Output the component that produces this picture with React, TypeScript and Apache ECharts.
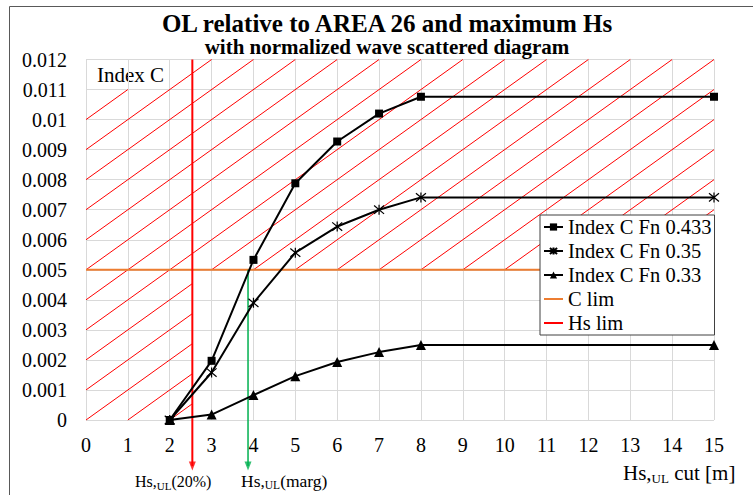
import React, { useEffect, useRef } from 'react';
import * as echarts from 'echarts';

// ---- data ----
const hsCut = [2, 3, 4, 5, 6, 7, 8, 15];
const fn0433 = [0, 0.00197, 0.00533, 0.00788, 0.00927, 0.0102, 0.01076, 0.01076];
const fn035 = [0, 0.00158, 0.0039, 0.00557, 0.00644, 0.0070, 0.00741, 0.00741];
const fn033 = [0, 0.00018, 0.00083, 0.00146, 0.00193, 0.00226, 0.0025, 0.0025];
const cLim = 0.005;
const hsLim = 2.54;
const hsMarg = 3.87;
const arrowEnd = -0.00153;
const xMin = 0, xMax = 15, yMin = 0, yMax = 0.012;
const hatchOffsets = [-12, -11, -10, -9, -8, -7, -6, -5, -4, -3, -2, -1, 0, 1, 2, 3, 4, 5, 6, 7, 8, 9, 10, 11, 12, 13, 14, 15];
const legendNames = ['Index C Fn 0.433', 'Index C Fn 0.35', 'Index C Fn 0.33', 'C lim', 'Hs lim'];

const FONT = 'Liberation Serif, serif';

// hatch region: (y >= cLim or x <= hsLim) minus label box
const labelBox = { x0: 0, x1: 2, y0: 0.011, y1: 0.012 };
function inRegion(x: number, y: number) {
  if (x < xMin || x > xMax || y < yMin || y > yMax) return false;
  if (x > labelBox.x0 && x < labelBox.x1 && y > labelBox.y0 && y < labelBox.y1) return false;
  return y >= cLim || x <= hsLim;
}
function hatchSegments(k: number): [number, number][] {
  const slope = 0.001;
  const lo = Math.max(xMin, k);
  const hi = Math.min(xMax, k + yMax / slope);
  if (hi <= lo) return [];
  const bps = [lo, hi, k + cLim / slope, hsLim, k + labelBox.y0 / slope, labelBox.x1]
    .filter((v) => v >= lo && v <= hi)
    .sort((a, b) => a - b);
  const segs: [number, number][] = [];
  for (let i = 0; i < bps.length - 1; i++) {
    const a = bps[i], b = bps[i + 1];
    if (b - a < 1e-9) continue;
    const m = (a + b) / 2;
    if (inRegion(m, slope * (m - k))) {
      if (segs.length && Math.abs(segs[segs.length - 1][1] - a) < 1e-9) segs[segs.length - 1][1] = b;
      else segs.push([a, b]);
    }
  }
  return segs;
}

const starPath = 'path://M0,0L10,10M10,0L0,10M5,-1L5,11';

export default function App() {
  const ref = useRef<HTMLDivElement>(null);
  useEffect(() => {
    const chart = echarts.init(ref.current!, undefined, { renderer: 'svg' });
    const toXY = (arr: number[]) => hsCut.map((x, i) => [x, arr[i]]);
    const sub = { fontFamily: FONT, color: '#000' };
    chart.setOption({
      animation: false,
      backgroundColor: '#fff',
      textStyle: { fontFamily: FONT },
      grid: { left: 86, right: 39, top: 59.5, bottom: 75, containLabel: false },
      xAxis: {
        type: 'value', min: xMin, max: xMax, interval: 1,
        axisLine: { show: false }, axisTick: { show: false },
        axisLabel: { fontFamily: FONT, fontSize: 20, color: '#000', margin: 15 },
        splitLine: { show: true, lineStyle: { color: '#d9d9d9', width: 1 } },
      },
      yAxis: {
        type: 'value', min: yMin, max: yMax, interval: 0.001,
        axisLine: { show: false }, axisTick: { show: false },
        axisLabel: {
          fontFamily: FONT, fontSize: 20, color: '#000', margin: 19,
          formatter: (v: number) => String(parseFloat(v.toFixed(4))),
        },
        splitLine: { show: true, lineStyle: { color: '#d9d9d9', width: 1 } },
      },
      legend: {
        orient: 'vertical', left: 540, top: 215, padding: [1.5, 3, 1.5, 3],
        itemGap: 3, itemWidth: 19, itemHeight: 9,
        backgroundColor: '#fff', borderColor: '#404040', borderWidth: 1,
        textStyle: { fontFamily: FONT, fontSize: 20.5, color: '#000' },
        data: [
          legendNames[0], legendNames[1], legendNames[2],
          { name: legendNames[3], itemStyle: { opacity: 0 } },
          { name: legendNames[4], itemStyle: { opacity: 0 } },
        ],
        z: 10,
      },
      graphic: [
        { type: 'rect', z: -1, shape: { x: 9.5, y: 6.5, width: 800, height: 600 }, style: { fill: 'none', stroke: '#595959', lineWidth: 1 } },
        { type: 'text', x: 387, y: 23.5, style: { text: 'OL relative to AREA 26 and maximum Hs', fontFamily: FONT, fontSize: 25, fontWeight: 'bold', fill: '#000', align: 'center', verticalAlign: 'middle' } },
        { type: 'text', x: 387, y: 47, style: { text: 'with normalized wave scattered diagram', fontFamily: FONT, fontSize: 21, fontWeight: 'bold', fill: '#000', align: 'center', verticalAlign: 'middle' } },
        { type: 'text', x: 97, y: 75, style: { text: 'Index C', fontFamily: FONT, fontSize: 21, fill: '#000', align: 'left', verticalAlign: 'middle' } },
        {
          type: 'text', x: 135, y: 481,
          style: {
            text: '{m|Hs,}{s|UL}{m|(20%)}', align: 'left', verticalAlign: 'middle',
            rich: { m: { ...sub, fontSize: 16, lineHeight: 20 }, s: { ...sub, fontSize: 11, lineHeight: 13, verticalAlign: 'bottom' } },
          },
        },
        {
          type: 'text', x: 241, y: 481,
          style: {
            text: '{m|Hs,}{s|UL}{m|(marg)}', align: 'left', verticalAlign: 'middle',
            rich: { m: { ...sub, fontSize: 17.5, lineHeight: 20 }, s: { ...sub, fontSize: 11.5, lineHeight: 13, verticalAlign: 'bottom' } },
          },
        },
        {
          type: 'text', x: 623, y: 473,
          style: {
            text: '{m|Hs,}{s|UL}{m| cut [m]}', align: 'left', verticalAlign: 'middle',
            rich: { m: { ...sub, fontSize: 21, lineHeight: 24 }, s: { ...sub, fontSize: 13, lineHeight: 15, verticalAlign: 'bottom' } },
          },
        },
      ],
      series: [
        {
          type: 'custom', name: 'hatch', z: 1, silent: true,
          data: hatchOffsets.map((k) => [k]),
          encode: { x: 0 },
          renderItem: (_p: any, api: any) => {
            const k = api.value(0);
            const segs = hatchSegments(k);
            return {
              type: 'group',
              children: segs.map(([a, b]) => {
                const p1 = api.coord([a, 0.001 * (a - k)]);
                const p2 = api.coord([b, 0.001 * (b - k)]);
                return { type: 'line', shape: { x1: p1[0], y1: p1[1], x2: p2[0], y2: p2[1] }, style: { stroke: '#ff0000', lineWidth: 1 } };
              }),
            };
          },
        },
        {
          type: 'line', name: 'C lim', z: 2, symbol: 'none',
          data: [[xMin, cLim], [xMax, cLim]],
          lineStyle: { color: '#ed7d31', width: 2 }, itemStyle: { color: '#ed7d31' },
        },
        {
          type: 'line', name: 'Hs lim', z: 2, symbol: 'none', clip: false,
          data: [[hsLim, yMax], [hsLim, arrowEnd]],
          lineStyle: { color: '#ff0000', width: 2 }, itemStyle: { color: '#ff0000' },
        },
        {
          type: 'line', name: 'marg', z: 2, symbol: 'none', clip: false,
          data: [[hsMarg, cLim], [hsMarg, arrowEnd]],
          lineStyle: { color: '#00b050', width: 1.5 }, itemStyle: { color: '#00b050' },
        },
        {
          type: 'scatter', name: 'arrows', z: 3, clip: false, symbol: 'triangle', symbolRotate: 180, symbolSize: [7, 9],
          data: [
            { value: [hsLim, arrowEnd], itemStyle: { color: '#ff0000' } },
            { value: [hsMarg, arrowEnd], itemStyle: { color: '#00b050' } },
          ],
        },
        {
          type: 'line', name: 'Index C Fn 0.433', z: 4, data: toXY(fn0433),
          symbol: 'rect', symbolSize: 8, showAllSymbol: true,
          lineStyle: { color: '#000', width: 2 }, itemStyle: { color: '#000', borderWidth: 0 },
        },
        {
          type: 'line', name: 'Index C Fn 0.35', z: 4, data: toXY(fn035),
          symbol: starPath, symbolSize: 10, showAllSymbol: true,
          lineStyle: { color: '#000', width: 2 }, itemStyle: { color: '#000', borderColor: '#000', borderWidth: 1.2 },
        },
        {
          type: 'line', name: 'Index C Fn 0.33', z: 4, data: toXY(fn033),
          symbol: 'triangle', symbolSize: 10, showAllSymbol: true,
          lineStyle: { color: '#000', width: 2 }, itemStyle: { color: '#000', borderWidth: 0 },
        },
      ],
    });
    return () => chart.dispose();
  }, []);
  return <div ref={ref} style={{ position: 'absolute', left: 0, top: 0, width: 753, height: 495 }} />;
}
